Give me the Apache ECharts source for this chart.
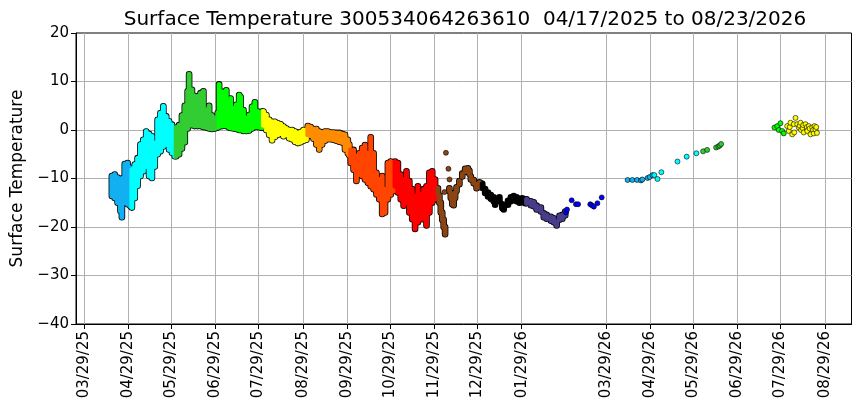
<!DOCTYPE html>
<html>
<head>
<meta charset="utf-8">
<script src="https://cdn.jsdelivr.net/npm/echarts@6/dist/echarts.min.js"></script>
<style>
  html, body { margin: 0; padding: 0; background: #fff; }
  #chart { width: 860px; height: 408px; }
</style>
</head>
<body>
<div id="chart"></div>
<script>
// dense logger record: daily envelope (low / high)
var bandDays = [
  '2025-04-17','2025-04-19','2025-04-21','2025-04-23','2025-04-24','2025-04-26','2025-04-28','2025-04-30',
  '2025-05-01','2025-05-03','2025-05-05','2025-05-07','2025-05-09','2025-05-11','2025-05-13','2025-05-15',
  '2025-05-17','2025-05-19','2025-05-21','2025-05-23','2025-05-25','2025-05-27','2025-05-29','2025-05-31',
  '2025-06-01','2025-06-03','2025-06-05','2025-06-07','2025-06-09','2025-06-10','2025-06-12','2025-06-14',
  '2025-06-16','2025-06-18','2025-06-20','2025-06-22','2025-06-24','2025-06-26','2025-06-28','2025-06-30',
  '2025-07-01','2025-07-03','2025-07-05','2025-07-06','2025-07-08','2025-07-09','2025-07-11','2025-07-13',
  '2025-07-15','2025-07-16','2025-07-18','2025-07-20','2025-07-22','2025-07-24','2025-07-26','2025-07-28',
  '2025-07-30','2025-07-31',
  '2025-08-01','2025-08-03','2025-08-05','2025-08-07','2025-08-09','2025-08-11','2025-08-13','2025-08-15',
  '2025-08-17','2025-08-19','2025-08-21','2025-08-23','2025-08-25','2025-08-27','2025-08-29','2025-08-31',
  '2025-09-01','2025-09-03','2025-09-05','2025-09-07','2025-09-09','2025-09-11','2025-09-13','2025-09-15',
  '2025-09-17','2025-09-19','2025-09-21','2025-09-23','2025-09-25','2025-09-27','2025-09-29','2025-09-30',
  '2025-10-01','2025-10-03','2025-10-05','2025-10-07','2025-10-09','2025-10-11','2025-10-13','2025-10-15',
  '2025-10-17','2025-10-19','2025-10-21','2025-10-23','2025-10-25','2025-10-27','2025-10-29','2025-10-31',
  '2025-11-01','2025-11-03','2025-11-05','2025-11-07','2025-11-09','2025-11-11','2025-11-13','2025-11-15',
  '2025-11-17','2025-11-19','2025-11-21','2025-11-23','2025-11-25','2025-11-27','2025-11-29',
  '2025-12-01','2025-12-02','2025-12-03','2025-12-04','2025-12-05','2025-12-06',
  '2025-12-09','2025-12-10','2025-12-11','2025-12-12','2025-12-13','2025-12-14','2025-12-16','2025-12-18',
  '2025-12-20','2025-12-22','2025-12-23','2025-12-24','2025-12-26','2025-12-28','2025-12-30','2025-12-31',
  '2026-01-01','2026-01-03','2026-01-05','2026-01-07','2026-01-09','2026-01-10','2026-01-13','2026-01-15',
  '2026-01-16','2026-01-19','2026-01-21','2026-01-23','2026-01-25','2026-01-27','2026-01-29','2026-01-31',
  '2026-02-01','2026-02-04','2026-02-06','2026-02-08','2026-02-11','2026-02-13','2026-02-15','2026-02-18',
  '2026-02-20','2026-02-22','2026-02-24','2026-02-26','2026-02-28'
];
var bandHigh = [
  -9.5,-9.2,-9.8,-10.2,-10.0,-7.0,-6.8,-7.8,
  -8.2,-7.1,-5.8,-3.0,-2.0,-0.3,-0.8,-1.3,
  -2.7,2.1,3.5,4.9,2.8,1.8,1.1,0.0,
  0.5,1.0,3.0,5.0,8.0,11.5,8.3,7.0,
  6.9,7.6,8.0,4.2,5.0,3.0,2.5,3.5,
  9.4,7.9,6.8,8.2,5.8,6.5,4.5,5.2,
  7.2,6.8,4.1,2.4,3.1,4.8,5.7,3.8,
  3.1,3.8,
  3.8,3.1,2.1,1.7,1.7,1.4,1.2,0.7,
  0.3,0.0,0.0,-0.3,-0.6,-0.4,0.0,0.0,
  0.8,0.6,0.2,0.2,-0.3,-0.5,-0.3,-0.3,
  -0.5,-0.5,-0.6,-0.6,-0.8,-1.0,-2.0,-3.0,
  -4.1,-4.1,-5.4,-4.8,-3.7,-3.1,-4.8,-1.5,
  -4.8,-8.8,-10.2,-9.5,-12.2,-6.8,-6.5,-6.8,
  -6.5,-6.8,-9.2,-10.2,-8.5,-10.5,-12.2,-13.6,
  -11.6,-13.3,-12.2,-11.6,-8.8,-8.5,-10.2,
  -12.0,-13.5,-15.0,-17.0,-18.5,-20.0,
  -12.0,-13.0,-14.3,-14.5,-13.0,-11.8,-10.5,-9.0,
  -8.0,-7.9,-8.4,-9.6,-10.3,-11.2,-10.8,-11.0,
  -11.1,-12.2,-12.9,-13.4,-13.9,-14.6,-13.9,-15.3,
  -15.6,-14.6,-13.9,-13.6,-13.9,-14.2,-14.1,-14.3,
  -14.3,-14.7,-14.9,-15.6,-16.0,-17.2,-17.5,-17.9,
  -18.2,-18.9,-17.7,-17.5,-16.8
];
var bandLow = [
  -13.6,-14.0,-15.0,-16.7,-18.0,-15.0,-15.3,-15.7,
  -16.0,-14.0,-11.5,-9.5,-8.5,-7.5,-9.5,-9.9,
  -7.5,-5.0,-4.4,-3.4,-3.0,-4.0,-4.7,-5.4,
  -5.4,-5.0,-3.8,-2.5,0.3,1.5,1.0,0.8,
  0.8,0.8,0.6,0.5,0.3,0.2,0.3,0.5,
  0.7,0.8,0.9,0.8,0.5,0.4,0.3,0.2,
  0.0,0.0,-0.2,-0.2,-0.1,0.3,0.6,0.6,
  0.5,0.5,
  1.0,0.0,-1.0,-2.1,-1.4,-1.0,-0.7,-1.3,
  -1.0,-1.7,-1.9,-2.4,-2.7,-2.5,-2.2,-2.0,
  -1.0,-1.2,-1.8,-3.0,-4.0,-3.0,-2.2,-1.9,
  -1.9,-2.0,-2.2,-2.4,-2.6,-4.0,-4.8,-5.2,
  -6.8,-8.2,-10.5,-9.2,-9.5,-10.2,-10.9,-11.6,
  -12.2,-13.3,-14.3,-17.3,-17.0,-14.3,-13.3,-12.6,
  -11.6,-12.9,-14.3,-15.6,-15.0,-17.0,-18.4,-20.4,
  -19.0,-18.4,-18.4,-19.7,-17.0,-15.0,-14.3,
  -13.0,-15.0,-17.0,-18.5,-20.0,-21.5,
  -12.6,-14.0,-15.3,-15.5,-14.0,-12.6,-11.2,-9.6,
  -8.6,-8.4,-9.0,-10.2,-11.0,-12.0,-11.5,-11.8,
  -11.9,-13.0,-13.7,-14.2,-14.7,-15.4,-14.7,-16.1,
  -16.4,-15.4,-14.7,-14.4,-14.7,-15.0,-14.9,-15.1,
  -15.1,-15.5,-15.7,-16.4,-16.8,-18.0,-18.3,-18.7,
  -19.0,-19.7,-18.5,-18.3,-17.6
];

// scattered single readings
var pointTimes = [
  '2025-12-06T02','2025-12-07T02','2025-12-08T20','2025-12-09T14',
  '2026-03-01T00','2026-03-01T18','2026-03-05T00','2026-03-08T00','2026-03-09T12',
  '2026-03-18T00','2026-03-19T00','2026-03-20T12','2026-03-23T00','2026-03-26T00',
  '2026-04-13T03','2026-04-16T10','2026-04-19T17','2026-04-22T12','2026-04-23T10',
  '2026-04-27T02','2026-04-28T12','2026-04-30T12','2026-05-01T19','2026-05-04T00',
  '2026-05-06T17','2026-05-18T00','2026-05-24T10','2026-05-31T05',
  '2026-06-04T22','2026-06-07T17','2026-06-14T00','2026-06-15T14','2026-06-16T12','2026-06-17T12',
  '2026-07-24T19','2026-07-26T17','2026-07-27T19','2026-07-29T00','2026-07-30T05','2026-07-31T07',
  '2026-08-02T17','2026-08-03T19','2026-08-04T12','2026-08-05T00','2026-08-06T05','2026-08-07T07',
  '2026-08-07T16','2026-08-08T12','2026-08-09T17','2026-08-10T19','2026-08-11T10','2026-08-12T00',
  '2026-08-12T10','2026-08-13T12','2026-08-13T22','2026-08-14T07','2026-08-15T12','2026-08-16T10',
  '2026-08-16T17','2026-08-17T19','2026-08-18T10','2026-08-19T00','2026-08-20T05','2026-08-20T18',
  '2026-08-21T07','2026-08-21T19','2026-08-22T12','2026-08-23T00','2026-08-23T12'
];
var pointTemps = [
  -12.8,-4.7,-8.0,-10.2,
  -17.0,-16.4,-14.5,-15.3,-15.3,
  -15.3,-15.5,-15.8,-15.1,-13.9,
  -10.3,-10.3,-10.3,-10.4,-10.2,
  -9.9,-9.7,-9.3,-9.3,-10.1,
  -8.7,-6.5,-5.5,-4.8,
  -4.4,-4.1,-3.6,-3.4,-3.2,-2.9,
  0.5,0.8,0.0,1.4,-0.2,-0.7,
  0.8,-0.2,0.6,1.5,-0.9,1.2,
  -0.5,2.5,1.2,0.5,0.9,1.5,
  0.0,0.4,1.0,-0.5,1.2,0.6,
  -0.2,0.8,0.3,-0.9,0.5,0.0,
  -0.7,0.8,0.1,0.6,-0.6
];

var tickDates = [
  '2025-03-29','2025-04-29','2025-05-29','2025-06-29','2025-07-29','2025-08-29',
  '2025-09-29','2025-10-29','2025-11-29','2025-12-29','2026-01-29',
  '2026-03-29','2026-04-29','2026-05-29','2026-06-29','2026-07-29','2026-08-29'
];
var tempTicks = [-40, 20, 10];   // min, max, step

// one colour per calendar month, January first
var monthColors = ['#000000','#483D8B','#0000FF','#12B0F0','#00FFFF','#32CD32',
                   '#00FF00','#FFFF00','#FF8C00','#FF4500','#FF0000','#8B4513'];

function ts(s){
  var p = s.split(/[-T:]/);
  return Date.UTC(+p[0], +p[1] - 1, +p[2], +(p[3] || 0));
}
function pad(n){ return (n < 10 ? '0' : '') + n; }
function fmtTick(v){
  var d = new Date(v);
  return pad(d.getUTCMonth() + 1) + '/' + pad(d.getUTCDate()) + '/' + String(d.getUTCFullYear()).slice(2);
}

var bandData = bandDays.map(function(d, i){
  var t = ts(d) + 12 * 3600e3;
  return [t, bandLow[i], bandHigh[i], new Date(t).getUTCMonth()];
});
var pointData = pointTimes.map(function(d, i){
  var t = ts(d);
  return [t, pointTemps[i], new Date(t).getUTCMonth()];
});
var tickValues = tickDates.map(ts);

function bandRenderer(pad, black){
  return function(params, api){
    var t = api.value(0);
    var top = api.coord([t, api.value(2)]);
    var bot = api.coord([t, api.value(1)]);
    var w = 5 + pad * 2;
    return {
      type: 'rect',
      shape: { x: top[0] - w / 2, y: top[1] - w / 2, width: w, height: bot[1] - top[1] + w, r: w / 2 },
      style: { fill: black ? '#000' : monthColors[api.value(3)] }
    };
  };
}

var FONT = 'DejaVu Sans';
var chart = echarts.init(document.getElementById('chart'));
chart.setOption({
  animation: false,
  backgroundColor: '#fff',
  title: {
    text: 'Surface Temperature 300534064263610  04/17/2025 to 08/23/2026',
    left: 460, top: 5, textAlign: 'center',
    textStyle: { fontFamily: FONT, fontSize: 20, fontWeight: 'normal', color: '#000' }
  },
  grid: { left: 76, right: 8.5, top: 33, bottom: 84, show: true, borderColor: '#000', borderWidth: 1 },
  xAxis: {
    type: 'value',
    min: ts('2025-03-23T10'), max: ts('2026-09-16T16'),
    axisLine: { onZero: false, lineStyle: { color: '#000', width: 1 } },
    axisTick: { show: true, length: 5, lineStyle: { color: '#000' }, customValues: tickValues },
    axisLabel: {
      customValues: tickValues, rotate: 90, margin: 7, formatter: fmtTick,
      fontFamily: FONT, fontSize: 15, color: '#000'
    },
    splitLine: { show: true, lineStyle: { color: '#b0b0b0', width: 1 } }
  },
  yAxis: {
    type: 'value', min: tempTicks[0], max: tempTicks[1], interval: tempTicks[2],
    name: 'Surface Temperature', nameLocation: 'middle', nameGap: 50,
    nameTextStyle: { fontFamily: FONT, fontSize: 17, color: '#000' },
    axisLine: { show: true, lineStyle: { color: '#000', width: 1 } },
    axisTick: { show: true, length: 5, lineStyle: { color: '#000' } },
    axisLabel: {
      margin: 7, fontFamily: FONT, fontSize: 15, color: '#000',
      formatter: function(v){ return String(v).replace('-', '\u2212'); }
    },
    splitLine: { show: true, showMinLine: false, showMaxLine: false, lineStyle: { color: '#b0b0b0', width: 1 } }
  },
  series: [
    {
      type: 'custom', name: 'outline', coordinateSystem: 'cartesian2d',
      encode: { x: 0, y: [1, 2] }, data: bandData, renderItem: bandRenderer(0.8, true), z: 2, silent: true
    },
    {
      type: 'custom', name: 'temperature', coordinateSystem: 'cartesian2d',
      encode: { x: 0, y: [1, 2] }, data: bandData, renderItem: bandRenderer(0, false), z: 3, silent: true
    },
    {
      type: 'scatter', name: 'readings', data: pointData, symbolSize: 5, z: 4,
      itemStyle: {
        color: function(p){ return monthColors[p.data[2]]; },
        borderColor: '#000', borderWidth: 0.6, opacity: 1
      }
    }
  ]
});
</script>
</body>
</html>
